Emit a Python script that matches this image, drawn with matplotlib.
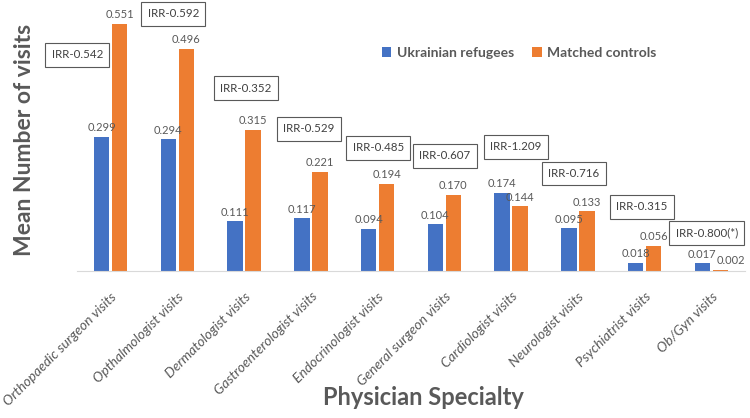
import matplotlib.pyplot as plt
import numpy as np

plt.rcParams['font.family'] = ['Lato', 'DejaVu Sans']

# data
specialties = ['Orthopaedic surgeon visits', 'Opthalmologist visits', 'Dermatologist visits',
               'Gastroenterologist visits', 'Endocrinologist visits', 'General surgeon visits',
               'Cardiologist visits', 'Neurologist visits', 'Psychiatrist visits', 'Ob/Gyn visits']
refugees = [0.299, 0.294, 0.111, 0.117, 0.094, 0.104, 0.174, 0.095, 0.018, 0.017]
controls = [0.551, 0.496, 0.315, 0.221, 0.194, 0.170, 0.144, 0.133, 0.056, 0.002]
irr_labels = ['IRR-0.542', 'IRR-0.592', 'IRR-0.352', 'IRR-0.529', 'IRR-0.485',
              'IRR-0.607', 'IRR-1.209', 'IRR-0.716', 'IRR-0.315', 'IRR-0.800(*)']

# where each IRR box sits (data coords)
irr_pos = [(-0.50, 0.482), (0.94, 0.574), (2.03, 0.408), (2.97, 0.317), (4.01, 0.275),
           (5.01, 0.257), (6.07, 0.277), (6.94, 0.217), (7.96, 0.143), (8.93, 0.085)]

blue = '#4472C4'
orange = '#ED7D31'
grey = '#595959'

fig = plt.figure(figsize=(7.5, 4.18), dpi=100)
ax = fig.add_axes([0.103, 0.352, 0.890, 0.643])

x = np.arange(len(specialties))
w = 0.23
b1 = ax.bar(x - 0.135, refugees, w, color=blue, label='Ukrainian refugees')
b2 = ax.bar(x + 0.135, controls, w, color=orange, label='Matched controls')

for xi, v in zip(x - 0.135, refugees):
    ax.text(xi, v + 0.008, '%.3f' % v, ha='center', va='bottom', fontsize=8, color=grey)
for i, (xi, v) in enumerate(zip(x + 0.135, controls)):
    if i == len(controls) - 1:
        # last label sits to the right so it clears the blue one
        ax.text(xi - 0.06, v + 0.008, '%.3f' % v, ha='left', va='bottom', fontsize=8, color=grey)
    else:
        ax.text(xi, v + 0.008, '%.3f' % v, ha='center', va='bottom', fontsize=8, color=grey)

for (px, py), lab in zip(irr_pos, irr_labels):
    ax.text(px, py, lab, ha='center', va='center', fontsize=8.3, color='#404040', clip_on=False,
            bbox=dict(boxstyle='square,pad=0.55', fc='white', ec='#595959', lw=0.8))

ax.set_xlim(-0.5, 9.5)
ax.set_ylim(0, 0.6)
for s in ['top', 'right', 'left']:
    ax.spines[s].set_visible(False)
ax.spines['bottom'].set_color('#d9d9d9')
ax.set_yticks([])
ax.set_xticks(x)
ax.set_xticklabels(specialties, rotation=45, ha='right', rotation_mode='anchor',
                   fontsize=10, style='italic', color=grey)
ax.tick_params(axis='x', length=0, pad=14)

fig.text(0.033, 0.665, 'Mean Number of visits', rotation=90, ha='center', va='center',
         fontsize=16.5, fontweight='bold', color=grey)
fig.text(0.564, 0.05, 'Physician Specialty', ha='center', va='center',
         fontsize=17, fontweight='bold', color=grey)

ax.legend(loc='center', bbox_to_anchor=(0.662, 0.811), ncol=2, frameon=False,
          prop={'size': 10, 'weight': 'bold'}, labelcolor=grey,
          handlelength=0.7, handleheight=0.7, handletextpad=0.4, columnspacing=1.3)

fig.savefig('out.png', dpi=100)
